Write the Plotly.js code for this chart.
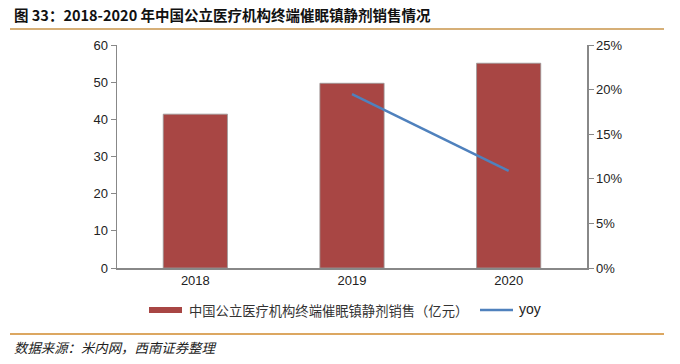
<!DOCTYPE html>
<html><head><meta charset="utf-8">
<script src="https://cdn.plot.ly/plotly-3.0.1.min.js"></script>
<style>html,body{margin:0;padding:0;background:#fff}#c{width:680px;height:364px}</style>
</head><body><div id="c"></div>
<script>
const years = ['2018', '2019', '2020'];
const sales = [41.4, 49.7, 55.1];
const yoyYears = ['2019', '2020'];
const yoy = [19.5, 10.9];
const yTicks = [0, 10, 20, 30, 40, 50, 60];
const y2Ticks = [0, 5, 10, 15, 20, 25];
const y2Labels = ['0%', '5%', '10%', '15%', '20%', '25%'];

const L = 117, R = 587, T = 45, B = 268;
const px = x => (x - L) / (R - L);
const py = y => (B - y) / (B - T);
const font = 'Liberation Sans, Arial, sans-serif';
const cjk = '"Noto Sans CJK SC", sans-serif';

const traces = [
  {type: 'bar', x: years, y: sales, name: '中国公立医疗机构终端催眠镇静剂销售（亿元）',
   marker: {color: '#A84644', line: {color: '#9a9a9a', width: 0.8}}, width: 0.41},
  {type: 'scatter', mode: 'lines', x: yoyYears, y: yoy, yaxis: 'y2', name: 'yoy',
   line: {color: '#4F81BD', width: 2.5}}
];

const layout = {
  width: 680, height: 364,
  margin: {l: L, r: 680 - R, t: T, b: 364 - B},
  paper_bgcolor: '#fff', plot_bgcolor: '#fff',
  showlegend: false, bargap: 0.59,
  font: {family: font, size: 13, color: '#222'},
  xaxis: {type: 'category', showline: true, linecolor: '#888', linewidth: 1.5,
          ticks: '', tickfont: {size: 13, color: '#222'}, fixedrange: true},
  yaxis: {range: [0, 60], tickvals: yTicks, showgrid: false, zeroline: false,
          showline: true, linecolor: '#888', linewidth: 1.5, ticks: 'outside',
          ticklen: 5, tickcolor: '#888', tickfont: {size: 13, color: '#222'}},
  yaxis2: {range: [0, 25], overlaying: 'y', side: 'right', tickvals: y2Ticks,
           ticktext: y2Labels, showgrid: false, zeroline: false, showline: true,
           linecolor: '#888', linewidth: 1.5, ticks: 'outside', ticklen: 5,
           tickcolor: '#888', tickfont: {size: 13, color: '#222'}},
  shapes: [
    {type: 'line', xref: 'paper', yref: 'paper', x0: px(10), x1: px(664), y0: py(29), y1: py(29),
     line: {color: '#C9954A', width: 1.5}},
    {type: 'line', xref: 'paper', yref: 'paper', x0: px(10), x1: px(664), y0: py(334), y1: py(334),
     line: {color: '#D08A2C', width: 1.5}},
    {type: 'line', xref: 'paper', yref: 'paper', x0: px(149), x1: px(182), y0: py(310), y1: py(310),
     line: {color: '#A84644', width: 6}},
    {type: 'line', xref: 'paper', yref: 'paper', x0: px(480), x1: px(513), y0: py(310), y1: py(310),
     line: {color: '#4F81BD', width: 2.5}}
  ],
  annotations: [
    {xref: 'paper', yref: 'paper', x: px(12), y: py(14), xanchor: 'left', yanchor: 'middle',
     showarrow: false, text: '<b>图 33：2018-2020 年中国公立医疗机构终端催眠镇静剂销售情况</b>',
     font: {family: cjk, size: 14.5, color: '#111'}},
    {xref: 'paper', yref: 'paper', x: px(187), y: py(310), xanchor: 'left', yanchor: 'middle',
     showarrow: false, text: '中国公立医疗机构终端催眠镇静剂销售（亿元）',
     font: {family: cjk, size: 13.3, color: '#333'}},
    {xref: 'paper', yref: 'paper', x: px(517), y: py(309), xanchor: 'left', yanchor: 'middle',
     showarrow: false, text: 'yoy', font: {family: font, size: 14, color: '#222'}},
    {xref: 'paper', yref: 'paper', x: px(12), y: py(347), xanchor: 'left', yanchor: 'middle',
     showarrow: false, text: '<i>数据来源：米内网，西南证券整理</i>',
     font: {family: cjk, size: 13.4, color: '#222'}}
  ]
};
Plotly.newPlot('c', traces, layout, {displayModeBar: false, staticPlot: true});
</script></body></html>
